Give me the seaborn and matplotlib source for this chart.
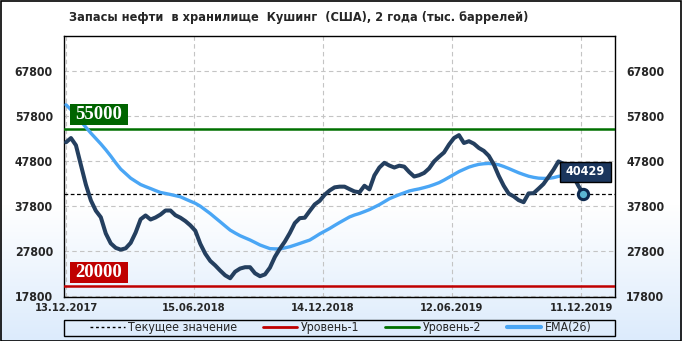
import numpy as np
import pandas as pd
import matplotlib
matplotlib.use("Agg")
import matplotlib.pyplot as plt
import matplotlib.transforms as mtransforms
from matplotlib.patches import Rectangle
from matplotlib.lines import Line2D
from matplotlib import font_manager
import seaborn as sns

# ---------------- data ----------------
title = "Запасы нефти  в хранилище  Кушинг  (США), 2 года (тыс. баррелей)"
date_labels = ["13.12.2017", "15.06.2018", "14.12.2018", "12.06.2019", "11.12.2019"]
date_ticks = [0, 25.73, 51.67, 77.6, 103.54]
y_ticks = [17800, 27800, 37800, 47800, 57800, 67800]

stocks = [51950, 52900, 51300, 46900, 42550, 39050, 36750, 35300, 31700, 29500,
          28500, 28100, 28400, 29600, 31900, 34850, 35700, 34800, 35250, 35900,
          36800, 36800, 35750, 35200, 34450, 33500, 32300, 29400, 27200, 25600,
          24600, 23450, 22400, 21750, 23200, 23900, 24200, 24200, 22850, 22200,
          22600, 24100, 26500, 28300, 29900, 31800, 34000, 35100, 35200, 36700,
          38150, 38950, 40300, 41250, 41950, 42100, 42100, 41550, 41030, 40850,
          42300, 41500, 44600, 46350, 47400, 46800, 46350, 46760, 46550, 45350,
          44350, 44650, 45150, 46150, 47700, 48750, 49700, 51450, 52900, 53550,
          51800, 52200, 51650, 50700, 50050, 48950, 47050, 44500, 42300, 40550,
          39950, 39100, 38650, 40600, 40650, 41650, 42700, 44250, 45850, 47700,
          47200, 46100, 44400, 42300, 40429]

ema26 = [60300, 59200, 57900, 56600, 55300, 54000, 52800, 51600, 50300, 48900,
         47400, 46000, 45000, 43990, 43270, 42570, 42110, 41680, 41230, 40810,
         40590, 40360, 40100, 39850, 39350, 38870, 38400, 37760, 36940, 36120,
         35200, 34290, 33360, 32450, 31800, 31200, 30720, 30250, 29700, 29140,
         28730, 28330, 28280, 28250, 28500, 28750, 29110, 29480, 29860, 30230,
         30900, 31600, 32200, 32800, 33480, 34130, 34750, 35370, 35800, 36140,
         36560, 37000, 37550, 38100, 38750, 39410, 39880, 40330, 40740, 41140,
         41390, 41610, 41890, 42190, 42570, 42990, 43560, 44190, 44820, 45450,
         45950, 46440, 46780, 47060, 47190, 47260, 47150, 46960, 46580, 46140,
         45660, 45190, 44790, 44420, 44170, 43990, 43940, 43940, 44100, 44390,
         44550, 44650, 44650, 44500, 44300]

level1 = 20000
level2 = 55000
current = 40429
legend_labels = ["Текущее значение", "Уровень-1", "Уровень-2", "EMA(26)"]

# ---------------- style ----------------
sns.set_style("white")
plt.rcParams['font.family'] = ['DejaVu Sans']

has_cond = any(f.name == "DejaVu Sans" and f.stretch in ("condensed", "semi-condensed", 87.5, 75)
               for f in font_manager.fontManager.ttflist)
STRETCH = "condensed" if has_cond else "normal"
k = 1.1 if has_cond else 1.0

DARK = "#243f5f"
BLUE = "#4aa6f5"
GREEN = "#007000"
RED = "#c00000"

W, H = 682, 341
fig = plt.figure(figsize=(W / 100, H / 100), dpi=100)

# background gradient
bg = fig.add_axes([0, 0, 1, 1], zorder=-10)
bg.axis("off")
rows = np.linspace(0, 1, H)[:, None]  # 0 top -> 1 bottom
t = np.clip((rows - 0.60) / 0.40, 0, 1)
top_c = np.array([1.0, 1.0, 1.0])
bot_c = np.array([0xdc, 0xeb, 0xfc]) / 255
img = (top_c * (1 - t) + bot_c * t)[:, None, :] * np.ones((1, 2, 1))
bg.imshow(img, aspect="auto", extent=[0, 1, 0, 1])
bg.set_xlim(0, 1)
bg.set_ylim(0, 1)

ax = fig.add_axes([64 / W, 44 / H, 551 / W, 261 / H])
ax.patch.set_alpha(0)

df = pd.DataFrame({"week": np.arange(len(stocks)), "stocks": stocks, "ema": ema26})

ax.axhline(level2, color=GREEN, lw=1.8, zorder=3)
ax.axhline(level1, color=RED, lw=1.8, zorder=3)
ax.axhline(current, color="black", lw=0.9, ls=(0, (3, 2)), zorder=3)

sns.lineplot(data=df, x="week", y="ema", ax=ax, color=BLUE, lw=2.4, zorder=4)
sns.lineplot(data=df, x="week", y="stocks", ax=ax, color=DARK, lw=2.9, zorder=5)

last = df.iloc[[-1]]
sns.scatterplot(data=last, x="week", y="stocks", ax=ax, s=55, color="#5ab6d2",
                edgecolor="#0d2a4f", linewidth=2.2, zorder=7)

ax.set_xlim(-0.4, 110.37)
ax.set_ylim(17580, 75580)
ax.set_xticks(date_ticks)
ax.set_xticklabels(date_labels, fontweight="bold", fontsize=7.3 * k, fontstretch=STRETCH)
ax.set_yticks(y_ticks)
ax.set_yticklabels([str(v) for v in y_ticks], fontweight="bold", fontsize=8 * k, fontstretch=STRETCH)
ax.tick_params(axis="y", length=0, pad=8, labelleft=True, labelright=True)
ax.tick_params(axis="x", length=0, pad=4.5)
ax.set_xlabel("")
ax.set_ylabel("")
ax.grid(True, color="#c4c4c4", ls=(0, (4, 3)), lw=0.8)
for s in ax.spines.values():
    s.set_color("black")
    s.set_linewidth(1.0)

blend = mtransforms.blended_transform_factory(ax.transAxes, ax.transData)

# level labels
ax.add_patch(Rectangle((0.011, 55750), 0.105, 4700, transform=blend,
                       facecolor="#006400", edgecolor="none", zorder=6))
ax.text(0.0635, 58150, "55000", transform=blend, ha="center", va="center",
        color="white", fontsize=13.5, fontweight="bold",
        family=["Liberation Serif", "DejaVu Serif"], zorder=7)
ax.add_patch(Rectangle((0.011, 20700), 0.105, 4700, transform=blend,
                       facecolor=RED, edgecolor="none", zorder=6))
ax.text(0.0635, 23100, "20000", transform=blend, ha="center", va="center",
        color="white", fontsize=13.5, fontweight="bold",
        family=["Liberation Serif", "DejaVu Serif"], zorder=7)

# current value label
ax.add_patch(Rectangle((0.900, 43130), 0.0926, 4450, transform=blend,
                       facecolor="#1b365d", edgecolor="black", lw=1, zorder=8))
ax.text(0.946, 45360, f"{current}", transform=blend, ha="center", va="center",
        color="white", fontsize=8.2 * k, fontweight="bold", fontstretch=STRETCH, zorder=9)

# title
fig.text(69 / W, 1 - 17 / H, title, ha="left", va="center", fontweight="bold",
         fontsize=8.3 * k, fontstretch=STRETCH)

# legend
fig.patches.append(Rectangle((64 / W, 5 / H), 551 / W, 16 / H, transform=fig.transFigure,
                             facecolor="none", edgecolor="black", lw=1))
handles = [Line2D([], [], color="black", lw=1, ls=(0, (2, 2))),
           Line2D([], [], color=RED, lw=2),
           Line2D([], [], color=GREEN, lw=2),
           Line2D([], [], color=BLUE, lw=3)]
fig.legend(handles, legend_labels, ncol=4, frameon=False, loc="center",
           bbox_to_anchor=(341 / W, 13 / H), handlelength=2.8,
           columnspacing=2.1, handletextpad=0.3, borderpad=0, borderaxespad=0,
           prop={"size": 8 * k, "stretch": STRETCH})

# figure border
fig.patches.append(Rectangle((0.5 / W, 0.5 / H), 1 - 1.5 / W, 1 - 1.5 / H,
                             transform=fig.transFigure, facecolor="none",
                             edgecolor="black", lw=1.2))

fig.savefig("out.png", dpi=100)
